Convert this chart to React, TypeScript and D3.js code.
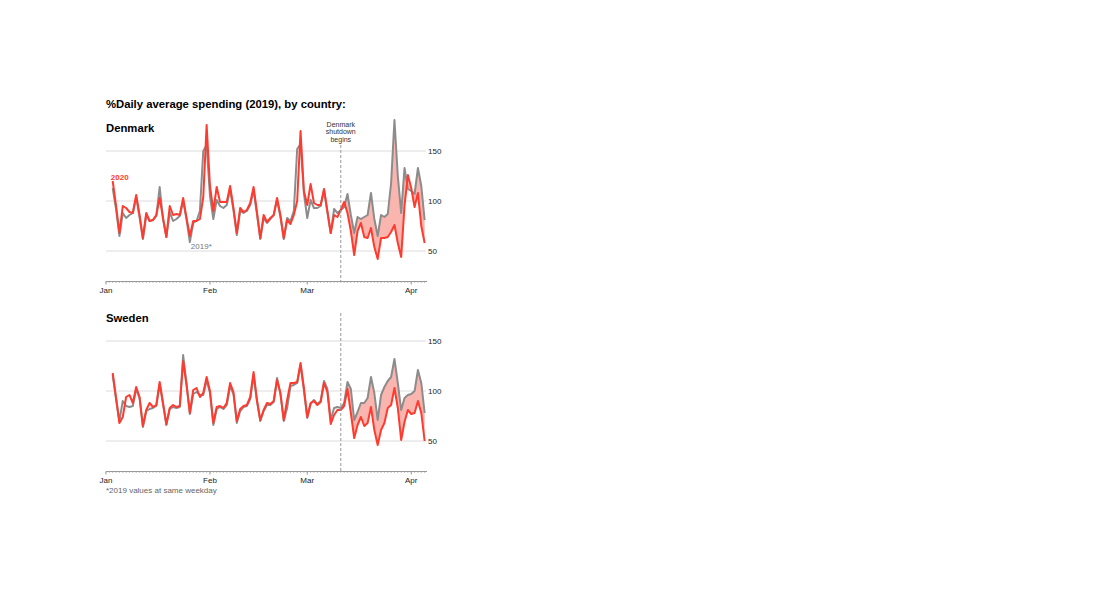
import React from 'react';
import * as d3 from 'd3';

// First data day: 3 Jan 2020, one value per day through 5 Apr 2020
const startDate = new Date(2020, 0, 3);
const shutdownDate = new Date(2020, 2, 11);
const monthTicks = [new Date(2020, 0, 1), new Date(2020, 1, 1), new Date(2020, 2, 1), new Date(2020, 3, 1)];
const monthLabels = ['Jan', 'Feb', 'Mar', 'Apr'];
const yTicks = [50, 100, 150];

const dk2020 = [
  120, 95, 68, 95, 93, 89, 88, 106, 86, 63, 88, 80, 81, 86, 103, 83, 64, 95, 86, 87, 86, 103, 83, 65, 80, 80, 82, 104, 176,
  115, 90, 114, 99, 99, 99, 115, 93, 68, 93, 89, 91, 98, 114, 89, 63, 86, 79, 83, 86, 103, 86, 63, 81, 77, 86, 100, 170, 110,
  96, 117, 98, 96, 96, 112, 90, 68, 86, 84, 91, 99, 88, 70, 46, 70, 78, 64, 63, 73, 54, 42, 63, 63, 64, 69, 76, 58, 44, 95, 126,
  113, 94, 108, 75, 58,
];
const dk2019 = [
  113, 92, 65, 88, 83, 86, 88, 104, 84, 62, 86, 80, 81, 85, 114, 82, 64, 89, 80, 82, 85, 100, 82, 59, 78, 80, 90, 150, 156,
  105, 82, 101, 95, 93, 96, 112, 91, 66, 90, 88, 90, 96, 111, 87, 62, 83, 78, 82, 86, 101, 84, 62, 83, 80, 90, 152, 157, 108,
  83, 101, 93, 93, 95, 111, 89, 68, 92, 88, 91, 94, 107, 86, 68, 84, 82, 84, 86, 108, 82, 65, 86, 84, 87, 118, 181, 125, 88, 133, 112,
  110, 107, 133, 115, 81,
];
const se2020 = [
  118, 93, 68, 74, 94, 96, 88, 104, 94, 65, 81, 88, 84, 86, 109, 88, 67, 83, 86, 84, 85, 130, 106, 78, 101, 103, 94, 98, 114,
  100, 68, 84, 85, 83, 88, 108, 99, 70, 82, 85, 86, 94, 119, 91, 71, 81, 88, 87, 90, 111, 98, 71, 91, 108, 108, 109, 128, 103,
  74, 88, 90, 86, 89, 108, 99, 67, 76, 81, 81, 85, 102, 78, 53, 66, 74, 65, 68, 84, 61, 46, 61, 68, 83, 86, 103, 83, 51, 69, 81,
  77, 78, 90, 78, 50,
];
const se2019 = [
  116, 92, 70, 90, 85, 84, 85, 102, 93, 64, 80, 82, 83, 85, 107, 87, 66, 82, 84, 83, 84, 136, 108, 77, 97, 99, 96, 96, 111,
  98, 66, 82, 84, 82, 86, 105, 97, 68, 80, 84, 85, 92, 116, 90, 70, 80, 86, 86, 89, 113, 97, 70, 83, 105, 106, 108, 126, 101,
  73, 87, 91, 87, 90, 110, 102, 71, 83, 84, 83, 88, 109, 102, 71, 79, 88, 88, 93, 114, 98, 71, 96, 104, 110, 114, 132, 108, 81, 93, 96,
  97, 100, 121, 108, 78,
];

const RED = '#ff3b2f';
const GRAY = '#8c8c8c';
const FILL = '#fbb5af';
const FONT = '"Liberation Sans", Arial, Helvetica, sans-serif';

const x = d3.scaleTime().domain([new Date(2020, 0, 1), new Date(2020, 3, 6)]).range([106, 428]);
const dayOf = (i: number) => d3.timeDay.offset(startDate, i);

type Pt = { date: Date; a: number; b: number };

function Panel({ name, top, s2020, s2019, label2020, label2019 }: {
  name: string; top: number; s2020: number[]; s2019: number[]; label2020?: boolean; label2019?: boolean;
}) {
  const y = d3.scaleLinear().domain([20, 180]).range([top + 160, top]);
  const pts: Pt[] = s2020.map((v, i) => ({ date: dayOf(i), a: v, b: s2019[i] }));
  const after = pts.filter((p) => p.date >= shutdownDate);
  const area = d3.area<Pt>().x((p) => x(p.date)).y0((p) => y(p.b)).y1((p) => y(p.a));
  const lineA = d3.line<Pt>().x((p) => x(p.date)).y((p) => y(p.a));
  const lineB = d3.line<Pt>().x((p) => x(p.date)).y((p) => y(p.b));
  const axisY = y(20) + 0.5;
  const days = d3.timeDay.range(new Date(2020, 0, 1), new Date(2020, 3, 6));
  const xEnd = 427;
  return (
    <g>
      <text x={106} y={top + 11} fontSize={11.3} fontWeight="bold" fill="#000">{name}</text>
      {yTicks.map((t) => (
        <g key={t}>
          <line x1={106} x2={426} y1={y(t)} y2={y(t)} stroke="#dcdcdc" strokeWidth={1} />
          <text x={428} y={y(t) + 3} fontSize={8} fill="#222">{t}</text>
        </g>
      ))}
      <path d={area(after) || ''} fill={FILL} stroke="none" />
      <path d={lineB(pts) || ''} fill="none" stroke={GRAY} strokeWidth={2} strokeLinejoin="round" />
      <path d={lineA(pts) || ''} fill="none" stroke={RED} strokeWidth={2} strokeLinejoin="round" />
      <line x1={x(shutdownDate)} x2={x(shutdownDate)} y1={top + (label2020 ? 24 : 2)} y2={axisY}
        stroke="#999" strokeWidth={1} strokeDasharray="3,2" />
      <line x1={106} x2={xEnd} y1={axisY} y2={axisY} stroke="#999" strokeWidth={1} />
      {days.map((d, i) => (
        <line key={i} x1={x(d)} x2={x(d)} y1={axisY} y2={axisY + 1.5} stroke="#999" strokeWidth={0.6} />
      ))}
      {monthTicks.map((d, i) => (
        <g key={i}>
          <line x1={x(d)} x2={x(d)} y1={axisY} y2={axisY + 3} stroke="#999" strokeWidth={1} />
          <text x={x(d)} y={axisY + 11.5} fontSize={8} textAnchor="middle" fill="#222">{monthLabels[i]}</text>
        </g>
      ))}
      {label2020 && (
        <text x={x(dayOf(0)) + 7} y={y(s2020[0]) - 1} fontSize={8} fontWeight="bold" fill={RED} textAnchor="middle">2020</text>
      )}
      {label2019 && (
        <text x={x(dayOf(23)) + 1} y={y(s2019[23]) + 7} fontSize={8} fill="#777">2019*</text>
      )}
    </g>
  );
}

export default function App() {
  const sx = x(shutdownDate);
  return (
    <svg width={1100} height={600} style={{ position: 'absolute', left: 0, top: 0, fontFamily: FONT }}>
      <rect width={1100} height={600} fill="#fff" />
      <text x={106} y={107.5} fontSize={11.3} fontWeight="bold" fill="#000">%Daily average spending (2019), by country:</text>
      <Panel name="Denmark" top={121} s2020={dk2020} s2019={dk2019} label2020 label2019 />
      <text fontSize={7} textAnchor="middle" fill="#333">
        <tspan x={sx} y={126.5}>Denmark</tspan>
        <tspan x={sx} y={134}>shutdown</tspan>
        <tspan x={sx} y={141.5}>begins</tspan>
      </text>
      <Panel name="Sweden" top={311} s2020={se2020} s2019={se2019} />
      <text x={106} y={493} fontSize={8} fill="#666">*2019 values at same weekday</text>
    </svg>
  );
}
